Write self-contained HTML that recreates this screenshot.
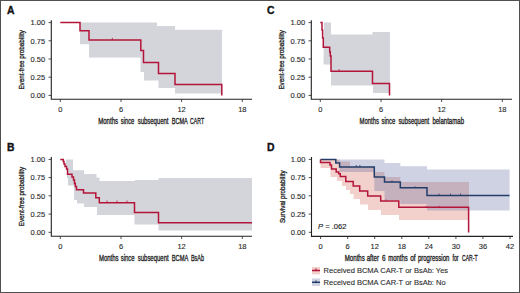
<!DOCTYPE html>
<html><head><meta charset="utf-8">
<style>
html,body{margin:0;padding:0;background:#fff;}
body{width:520px;height:293px;overflow:hidden;}
svg{display:block;}
text{font-family:"Liberation Sans",sans-serif;}
</style></head>
<body>
<svg width="520" height="293" viewBox="0 0 520 293">
<rect x="0" y="0" width="520" height="293" fill="#fff"/>

<!-- ============ PANEL A ============ -->
<g id="A">
  <polygon fill="#d4d5da" points="80,22.6 157,22.6 157,26 175,26 175,29.7 222,29.7 222,93.5 175,93.5 175,88 158.5,88 158.5,80.5 144,80.5 144,72 140.5,72 140.5,57.5 89,57.5 89,44.3 80,44.3"/>
  <path fill="none" stroke="#b3153a" stroke-width="1.5" d="M60.3,22.6 H80 V30.8 H89 V39.9 H140.8 V50.5 H143.5 V62.5 H158.5 V73.5 H175 V84.4 H221.8 V95.5"/>
  <path stroke="#b3153a" stroke-width="0.8" d="M112.3,37.8 V40"/>
</g>

<!-- ============ PANEL C ============ -->
<g id="C">
  <polygon fill="#d4d5da" points="324,22.6 331,22.6 331,34.5 372.5,34.5 372.5,32 390,32 390,93 373,93 373,85.5 331,85.5 331,64.5 323.5,64.5"/>
  <path fill="none" stroke="#b3153a" stroke-width="1.5" d="M320.3,22.6 H322 V30 H322.6 V38 H323.3 V47.2 H329.7 V52 H330.3 V56 H331 V71.3 H372.5 V83.5 H389.5 V95.5"/>
  <path stroke="#b3153a" stroke-width="0.8" d="M339,69.1 V71.3"/>
</g>

<!-- ============ PANEL B ============ -->
<g id="B">
  <polygon fill="#d4d5da" points="66,159.5 73,159.5 73,170.3 84,170.3 84,174 96.5,174 96.5,177.5 99.5,177.5 99.5,181 135,181 135,180 158.5,180 158.5,178 252,178 252,230.5 158.5,230.5 158.5,224.5 134.5,224.5 134.5,215 97,215 97,207 84,207 84,203.5 77,203.5 77,200 74,200 74,185.5 68,185.5 68,178 67,178 67,170 66,170"/>
  <path fill="none" stroke="#b3153a" stroke-width="1.5" d="M60.3,159.5 H63.3 V161.5 H64 V164 H65 V166.5 H66.5 V169 H67.5 V174.2 H72 V177 H73.5 V180 H74.5 V183.5 H75.3 V186.5 H76.5 V189.8 H83.5 V193 H95.8 V197.8 H99.3 V202.7 H134.5 V212.5 H158.5 V222.7 H252"/>
  <path stroke="#b3153a" stroke-width="0.8" d="M107,200.5 V202.7 M117,200.5 V202.7 M127,200.5 V202.7"/>
</g>

<!-- ============ PANEL D ============ -->
<g id="D">
  <!-- red CI band -->
  <polygon fill="rgb(203,67,51)" fill-opacity="0.25" points="320.5,159.5 339.6,159.5 339.6,161.5 350,161.5 350,167 374.3,167 374.3,172 384.5,172 384.5,177 400.3,177 400.3,182 469,182 469,220 399,220 399,215 381,215 381,210 368,210 368,204.5 360,204.5 360,199 353.5,199 353.5,194 350,194 350,190 346,190 346,186 342,186 342,181 337,181 337,177 330.5,177 330.5,168 320.5,168"/>
  <!-- blue CI band -->
  <polygon fill="rgb(92,105,158)" fill-opacity="0.3" points="335.8,159.5 384.5,159.5 384.5,163 400.3,163 400.3,166.2 427,166.2 427,169.4 509.6,169.4 509.6,210.4 427,210.4 427,204 400.3,204 400.3,200 384.5,200 384.5,191 374.3,191 374.3,172 339.6,172 339.6,163 335.8,163"/>
  <path fill="none" stroke="#233c68" stroke-width="1.5" d="M320.5,159.4 H335.8 V163 H339.6 V167 H374.3 V177 H384.5 V182 H400.3 V187.8 H427 V195.4 H509.5"/>
  <path fill="none" stroke="#b3153a" stroke-width="1.5" d="M320.5,159.5 V162.5 H330 V165 H331.5 V169 H336.2 V172 H338.7 V173.8 H340.3 V176.6 H345.8 V181.5 H353.2 V186 H359.7 V191 H367.7 V196 H380.7 V201 H398.8 V207.3 H468.6 V232.4"/>
  <path stroke="#233c68" stroke-width="0.8" d="M356.2,165 V167 M359.9,165 V167 M392,180.5 V182 M415,186.3 V187.8 M439,193.6 V195.4 M450.5,193.6 V195.4 M460.5,193.6 V195.4"/>
  <path stroke="#b3153a" stroke-width="0.8" d="M386,199.5 V201 M426,205.8 V207.3 M439,205.8 V207.3"/>
  <text x="318" y="229.1" font-size="7.6" fill="#222" stroke="#222" stroke-width="0.15"><tspan font-style="italic">P</tspan> = .062</text>
  <!-- legend -->
  <rect x="312" y="267" width="8" height="7.4" fill="rgb(203,67,51)" fill-opacity="0.25"/>
  <path stroke="#b3153a" stroke-width="1.5" d="M312,270.5 H320"/>
  <path stroke="#b3153a" stroke-width="1.2" d="M316,268.6 V270.5"/>
  <rect x="312" y="278.5" width="8" height="7.4" fill="rgb(92,105,158)" fill-opacity="0.3"/>
  <path stroke="#233c68" stroke-width="1.5" d="M312,282.3 H320"/>
  <path stroke="#233c68" stroke-width="1.2" d="M316,280.4 V282.3"/>
  <text x="323.6" y="273.4" font-size="7.5" fill="#2a2a2a" stroke="#2a2a2a" stroke-width="0.1">Received BCMA CAR-T or BsAb: Yes</text>
  <text x="323.6" y="285.0" font-size="7.5" fill="#2a2a2a" stroke="#2a2a2a" stroke-width="0.1">Received BCMA CAR-T or BsAb: No</text>
</g>

<!-- ============ AXES ============ -->
<g stroke="#222" stroke-width="1.1" fill="none">
  <!-- A -->
  <path d="M51.3,20.2 V99.3 H252"/>
  <path stroke-width="0.8" d="M48.5,22.6 H51.3 M48.5,40.8 H51.3 M48.5,59 H51.3 M48.5,77.2 H51.3 M48.5,95.4 H51.3 M60.3,99.3 V102 M121,99.3 V102 M181.6,99.3 V102 M242.3,99.3 V102"/>
  <!-- C -->
  <path d="M311.3,20.2 V99.3 H512"/>
  <path stroke-width="0.8" d="M308.5,22.6 H311.3 M308.5,40.8 H311.3 M308.5,59 H311.3 M308.5,77.2 H311.3 M308.5,95.4 H311.3 M320.3,99.3 V102 M381,99.3 V102 M441.6,99.3 V102 M502.3,99.3 V102"/>
  <!-- B -->
  <path d="M51.3,156.9 V236.3 H252"/>
  <path stroke-width="0.8" d="M48.5,159.4 H51.3 M48.5,177.6 H51.3 M48.5,195.8 H51.3 M48.5,214.1 H51.3 M48.5,232.3 H51.3 M60.3,236.3 V239 M121,236.3 V239 M181.6,236.3 V239 M242.3,236.3 V239"/>
  <!-- D -->
  <path d="M311.5,156.9 V236.4 H513"/>
  <path stroke-width="0.8" d="M308.7,159.4 H311.5 M308.7,177.6 H311.5 M308.7,195.8 H311.5 M308.7,214.1 H311.5 M308.7,232.3 H311.5 M320.6,236.4 V239 M347.7,236.4 V239 M374.7,236.4 V239 M401.8,236.4 V239 M428.8,236.4 V239 M455.9,236.4 V239 M482.9,236.4 V239 M510,236.4 V239"/>
</g>

<!-- ============ TEXT ============ -->
<g font-size="10.4" font-weight="bold" fill="#111" stroke="#111" stroke-width="0.35">
  <text x="6.9" y="13.9">A</text>
  <text x="266.9" y="13.9">C</text>
  <text x="6.9" y="150.6">B</text>
  <text x="266.9" y="150.6">D</text>
</g>
<g font-size="7.5" fill="#2a2a2a" stroke="#2a2a2a" stroke-width="0.12" text-anchor="end">
  <text x="45.2" y="25.3">1.00</text><text x="45.2" y="43.5">0.75</text><text x="45.2" y="61.7">0.50</text><text x="45.2" y="79.9">0.25</text><text x="45.2" y="98.1">0.00</text>
  <text x="305.2" y="25.3">1.00</text><text x="305.2" y="43.5">0.75</text><text x="305.2" y="61.7">0.50</text><text x="305.2" y="79.9">0.25</text><text x="305.2" y="98.1">0.00</text>
  <text x="45.2" y="162.1">1.00</text><text x="45.2" y="180.3">0.75</text><text x="45.2" y="198.5">0.50</text><text x="45.2" y="216.8">0.25</text><text x="45.2" y="235.0">0.00</text>
  <text x="305.4" y="162.1">1.00</text><text x="305.4" y="180.3">0.75</text><text x="305.4" y="198.5">0.50</text><text x="305.4" y="216.8">0.25</text><text x="305.4" y="235.0">0.00</text>
</g>
<g font-size="7.5" fill="#2a2a2a" stroke="#2a2a2a" stroke-width="0.12" text-anchor="middle">
  <text x="60.3" y="111.5">0</text><text x="121" y="111.5">6</text><text x="181.6" y="111.5">12</text><text x="242.3" y="111.5">18</text>
  <text x="320.3" y="111.5">0</text><text x="381" y="111.5">6</text><text x="441.6" y="111.5">12</text><text x="502.3" y="111.5">18</text>
  <text x="60.3" y="248.5">0</text><text x="121" y="248.5">6</text><text x="181.6" y="248.5">12</text><text x="242.3" y="248.5">18</text>
  <text x="320.6" y="248.5">0</text><text x="347.7" y="248.5">6</text><text x="374.7" y="248.5">12</text><text x="401.8" y="248.5">18</text><text x="428.8" y="248.5">24</text><text x="455.9" y="248.5">30</text><text x="482.9" y="248.5">36</text><text x="510" y="248.5">42</text>
</g>
<g font-size="9.3" fill="#222" stroke="#222" stroke-width="0.35">
  <text x="98.17" y="124.3" textLength="19.95" lengthAdjust="spacingAndGlyphs">Months</text>
  <text x="120.77" y="124.3" textLength="13.55" lengthAdjust="spacingAndGlyphs">since</text>
  <text x="137.68" y="124.3" textLength="30.75" lengthAdjust="spacingAndGlyphs">subsequent</text>
  <text x="171.68" y="124.3" textLength="16.15" lengthAdjust="spacingAndGlyphs">BCMA</text>
  <text x="190.08" y="124.3" textLength="13.95" lengthAdjust="spacingAndGlyphs">CART</text>
  <text x="359.57" y="124.3" textLength="19.35" lengthAdjust="spacingAndGlyphs">Months</text>
  <text x="381.57" y="124.3" textLength="13.75" lengthAdjust="spacingAndGlyphs">since</text>
  <text x="398.38" y="124.3" textLength="30.85" lengthAdjust="spacingAndGlyphs">subsequent</text>
  <text x="432.38" y="124.3" textLength="31.65" lengthAdjust="spacingAndGlyphs">belantamab</text>
  <text x="98.97" y="261.2" textLength="19.55" lengthAdjust="spacingAndGlyphs">Months</text>
  <text x="120.77" y="261.2" textLength="13.85" lengthAdjust="spacingAndGlyphs">since</text>
  <text x="137.78" y="261.2" textLength="30.85" lengthAdjust="spacingAndGlyphs">subsequent</text>
  <text x="171.68" y="261.2" textLength="16.55" lengthAdjust="spacingAndGlyphs">BCMA</text>
  <text x="190.88" y="261.2" textLength="13.15" lengthAdjust="spacingAndGlyphs">BsAb</text>
  <text x="344.78" y="261.2" textLength="20.05" lengthAdjust="spacingAndGlyphs">Months</text>
  <text x="366.68" y="261.2" textLength="12.35" lengthAdjust="spacingAndGlyphs">after</text>
  <text x="382.07" y="261.2" textLength="3.55" lengthAdjust="spacingAndGlyphs">6</text>
  <text x="388.28" y="261.2" textLength="19.55" lengthAdjust="spacingAndGlyphs">months</text>
  <text x="410.18" y="261.2" textLength="5.44" lengthAdjust="spacingAndGlyphs">of</text>
  <text x="417.88" y="261.2" textLength="31.55" lengthAdjust="spacingAndGlyphs">progression</text>
  <text x="452.48" y="261.2" textLength="6.15" lengthAdjust="spacingAndGlyphs">for</text>
  <text x="462.07" y="261.2" textLength="15.45" lengthAdjust="spacingAndGlyphs">CAR-T</text>
</g>
<g font-size="7.6" fill="#222" stroke="#222" stroke-width="0.3">
  <text transform="translate(23.6,89.6) rotate(-90)" textLength="59.5" lengthAdjust="spacingAndGlyphs">Event-free probability</text>
  <text transform="translate(283.6,89.6) rotate(-90)" textLength="59.5" lengthAdjust="spacingAndGlyphs">Event-free probability</text>
  <text transform="translate(23.6,226.3) rotate(-90)" textLength="59.5" lengthAdjust="spacingAndGlyphs">Event-free probability</text>
  <text transform="translate(284.6,223.1) rotate(-90)" textLength="52.8" lengthAdjust="spacingAndGlyphs">Survival probability</text>
</g>

<!-- border -->
<rect x="0.5" y="0.5" width="519" height="292" fill="none" stroke="#505050" stroke-width="1"/>
</svg>
</body></html>
